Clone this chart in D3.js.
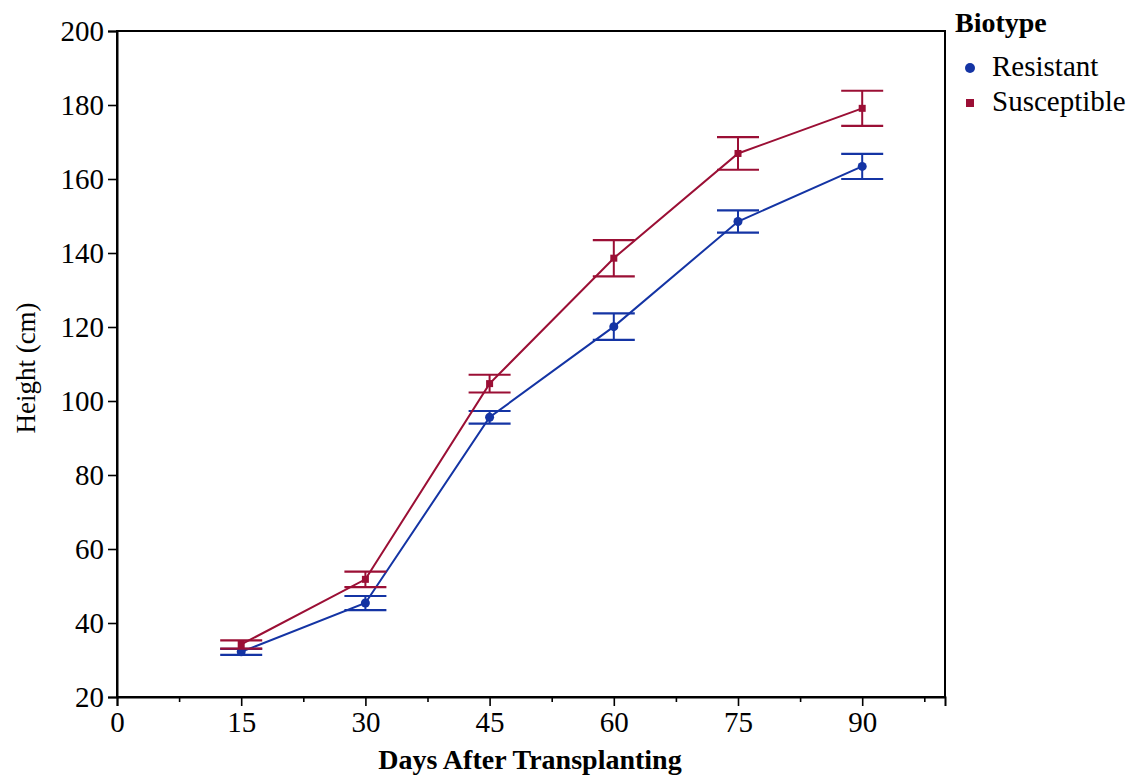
<!DOCTYPE html>
<html><head><meta charset="utf-8">
<script src="https://cdn.jsdelivr.net/npm/d3@7/dist/d3.min.js"></script>
<style>body{margin:0;background:#fff;} svg{display:block;}</style>
</head><body>
<svg id="chart" width="1136" height="778"></svg>
<script>
const days = [15, 30, 45, 60, 75, 90];
const resistantMean = [32.2, 45.4, 95.6, 120.1, 148.5, 163.4];
const resistantErr = [0.8, 1.9, 1.7, 3.6, 3.0, 3.4];
const susceptibleMean = [34.2, 51.8, 104.7, 138.6, 166.9, 179.1];
const susceptibleErr = [1.1, 2.1, 2.4, 4.9, 4.4, 4.75];
const xTicks = [0, 15, 30, 45, 60, 75, 90];
const xMinorTicks = [7.5, 22.5, 37.5, 52.5, 67.5, 82.5, 97.5];
const yTicks = [20, 40, 60, 80, 100, 120, 140, 160, 180, 200];
const seriesNames = ["Resistant", "Susceptible"];
const seriesColors = ["#1434a4", "#9b0f35"];

const svg = d3.select("#chart");
const L = 117, R = 945, T = 31, B = 697;
const x = d3.scaleLinear().domain([0, 100]).range([L, R]);
const y = d3.scaleLinear().domain([20, 200]).range([B, T]);
const font = "'Liberation Serif', 'Times New Roman', serif";

// frame
svg.append("rect").attr("x", L).attr("y", T).attr("width", R - L).attr("height", B - T)
  .attr("fill", "none").attr("stroke", "#000").attr("stroke-width", 2);

// x axis
const xAxis = svg.append("g").attr("transform", `translate(0,${B})`)
  .call(d3.axisBottom(x).tickValues(xTicks).tickSize(9).tickPadding(5).tickFormat(d3.format("d")));
svg.append("g").attr("transform", `translate(0,${B})`)
  .call(d3.axisBottom(x).tickValues(xMinorTicks).tickSize(5).tickFormat(""))
  .call(g => g.select(".domain").remove());
// y axis
const yAxis = svg.append("g").attr("transform", `translate(${L},0)`)
  .call(d3.axisLeft(y).tickValues(yTicks).tickSize(9).tickPadding(4).tickFormat(d3.format("d")));
svg.selectAll(".tick line").attr("stroke", "#000").attr("stroke-width", 1.6);
svg.selectAll(".domain").attr("stroke", "#000").attr("stroke-width", 2);
svg.selectAll(".tick text").attr("font-family", font).attr("font-size", 29).attr("fill", "#000");
yAxis.selectAll(".tick text").attr("dy", "0.33em");
xAxis.selectAll(".tick text").attr("dy", "0.72em");

// titles
svg.append("text").attr("x", (L + R) / 2 - 1).attr("y", 769).attr("text-anchor", "middle")
  .attr("font-family", font).attr("font-size", 28).attr("font-weight", "bold").text("Days After Transplanting");
svg.append("text").attr("transform", `translate(35,${(T + B) / 2 + 4}) rotate(-90)`).attr("text-anchor", "middle")
  .attr("font-family", font).attr("font-size", 27).text("Height (cm)");

const series = [
  {name: seriesNames[0], color: seriesColors[0], mean: resistantMean, err: resistantErr, shape: "circle"},
  {name: seriesNames[1], color: seriesColors[1], mean: susceptibleMean, err: susceptibleErr, shape: "square"}
];
const line = d3.line().x(d => x(d[0])).y(d => y(d[1]));
const capW = 21;
series.forEach(s => {
  const pts = days.map((d, i) => [d, s.mean[i], s.err[i]]);
  const g = svg.append("g");
  g.append("path").datum(pts).attr("d", line).attr("fill", "none")
    .attr("stroke", s.color).attr("stroke-width", 2);
  pts.forEach(p => {
    const cx = x(p[0]);
    g.append("line").attr("x1", cx).attr("x2", cx).attr("y1", y(p[1] + p[2])).attr("y2", y(p[1] - p[2]))
      .attr("stroke", s.color).attr("stroke-width", 2);
    [p[1] + p[2], p[1] - p[2]].forEach(v => {
      g.append("line").attr("x1", cx - capW).attr("x2", cx + capW).attr("y1", y(v)).attr("y2", y(v))
        .attr("stroke", s.color).attr("stroke-width", 2.2);
    });
    if (s.shape === "circle") {
      g.append("circle").attr("cx", cx).attr("cy", y(p[1])).attr("r", 4.5).attr("fill", s.color);
    } else {
      g.append("rect").attr("x", cx - 3.5).attr("y", y(p[1]) - 3.5).attr("width", 7).attr("height", 7).attr("fill", s.color);
    }
  });
});

// legend
const lg = svg.append("g");
lg.append("text").attr("x", 955).attr("y", 32).attr("font-family", font).attr("font-size", 28)
  .attr("font-weight", "bold").text("Biotype");
series.forEach((s, i) => {
  const yy = 68 + i * 35;
  if (s.shape === "circle") lg.append("circle").attr("cx", 970).attr("cy", yy).attr("r", 5).attr("fill", s.color);
  else lg.append("rect").attr("x", 966).attr("y", yy - 4).attr("width", 8).attr("height", 8).attr("fill", s.color);
  lg.append("text").attr("x", 992).attr("y", yy + 8).attr("font-family", font).attr("font-size", 29)
    .attr("fill", "#000").text(s.name);
});
</script>
</body></html>
